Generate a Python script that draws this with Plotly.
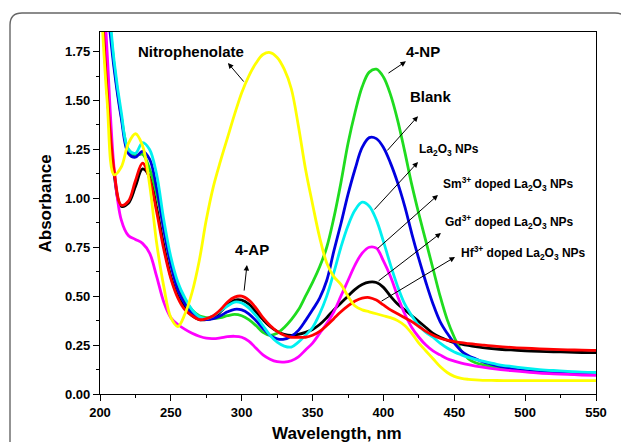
import plotly.graph_objects as go

# ---------------- data ----------------
wavelength = list(range(200, 471, 5)) + list(range(480, 551, 10))

abs_4np = [
    2.40, 2.05, 1.68, 1.42, 1.25, 1.22, 1.225, 1.15, 1.02, 0.85,
    0.67, 0.55, 0.48, 0.43, 0.40, 0.39, 0.385, 0.39, 0.40, 0.407,
    0.40, 0.38, 0.35, 0.315, 0.30, 0.31, 0.34, 0.38, 0.43, 0.50,
    0.57, 0.65, 0.75, 0.90, 1.08, 1.28, 1.44, 1.57, 1.645, 1.66,
    1.62, 1.53, 1.40, 1.24, 1.07, 0.92, 0.78, 0.64, 0.50, 0.38,
    0.29, 0.22, 0.18, 0.16, 0.15,
    0.135, 0.125, 0.118, 0.112, 0.108, 0.105, 0.103, 0.10]

abs_blank = [
    2.40, 2.00, 1.66, 1.41, 1.23, 1.21, 1.24, 1.20, 1.05, 0.84,
    0.66, 0.53, 0.46, 0.41, 0.385, 0.38, 0.385, 0.40, 0.42, 0.433,
    0.43, 0.41, 0.375, 0.335, 0.30, 0.282, 0.28, 0.295, 0.325, 0.375,
    0.43, 0.49, 0.58, 0.73, 0.87, 1.02, 1.15, 1.26, 1.31, 1.305,
    1.26, 1.18, 1.08, 0.96, 0.82, 0.69, 0.57, 0.46, 0.37, 0.31,
    0.26, 0.22, 0.195, 0.18, 0.165,
    0.145, 0.13, 0.12, 0.113, 0.108, 0.104, 0.101, 0.10]

abs_la2o3 = [
    2.50, 2.10, 1.70, 1.44, 1.25, 1.23, 1.285, 1.25, 1.12, 0.89,
    0.70, 0.57, 0.49, 0.43, 0.395, 0.385, 0.40, 0.425, 0.45, 0.47,
    0.465, 0.44, 0.40, 0.35, 0.30, 0.265, 0.245, 0.24, 0.265, 0.30,
    0.34, 0.41, 0.50, 0.62, 0.75, 0.86, 0.94, 0.98, 0.96, 0.89,
    0.78, 0.66, 0.55, 0.46, 0.40, 0.35, 0.315, 0.29, 0.26, 0.235,
    0.215, 0.20, 0.187, 0.177, 0.168,
    0.152, 0.141, 0.132, 0.125, 0.12, 0.116, 0.112, 0.11]

abs_sm = [
    2.40, 1.75, 1.15, 0.89, 0.81, 0.79, 0.77, 0.72, 0.60, 0.47,
    0.39, 0.355, 0.33, 0.31, 0.295, 0.285, 0.283, 0.287, 0.293, 0.295,
    0.29, 0.27, 0.235, 0.20, 0.178, 0.165, 0.163, 0.17, 0.19, 0.225,
    0.26, 0.31, 0.36, 0.42, 0.50, 0.58, 0.66, 0.72, 0.75, 0.745,
    0.68, 0.60, 0.50, 0.41, 0.34, 0.29, 0.25, 0.22, 0.20, 0.18,
    0.168, 0.158, 0.15, 0.143, 0.137,
    0.127, 0.12, 0.113, 0.107, 0.103, 0.10, 0.097, 0.095]

abs_gd = [
    2.20, 1.55, 1.12, 0.96, 0.975, 1.06, 1.15, 1.11, 0.95, 0.76,
    0.60, 0.50, 0.44, 0.40, 0.38, 0.38, 0.39, 0.42, 0.455, 0.48,
    0.48, 0.46, 0.42, 0.38, 0.345, 0.32, 0.305, 0.30, 0.305, 0.315,
    0.33, 0.355, 0.39, 0.43, 0.465, 0.50, 0.535, 0.56, 0.572, 0.57,
    0.545, 0.50, 0.46, 0.43, 0.40, 0.37, 0.34, 0.31, 0.29, 0.275,
    0.263, 0.255, 0.248, 0.242, 0.237,
    0.23, 0.225, 0.221, 0.218, 0.216, 0.214, 0.212, 0.211]

abs_hf = [
    2.20, 1.55, 1.14, 0.965, 0.985, 1.09, 1.18, 1.10, 0.93, 0.74,
    0.59, 0.49, 0.43, 0.40, 0.38, 0.385, 0.40, 0.43, 0.47, 0.495,
    0.50, 0.48, 0.44, 0.39, 0.35, 0.32, 0.30, 0.29, 0.29, 0.29,
    0.30, 0.32, 0.35, 0.385, 0.42, 0.45, 0.475, 0.49, 0.493, 0.48,
    0.455, 0.43, 0.41, 0.39, 0.37, 0.345, 0.32, 0.30, 0.285, 0.275,
    0.268, 0.262, 0.258, 0.254, 0.25,
    0.243, 0.238, 0.234, 0.231, 0.228, 0.226, 0.224, 0.223]

abs_nitrophenolate = [
    2.10, 1.50, 1.12, 1.16, 1.28, 1.33, 1.27, 1.07, 0.77, 0.55,
    0.39, 0.345, 0.41, 0.52, 0.68, 0.89, 1.06, 1.19, 1.31, 1.43,
    1.54, 1.625, 1.69, 1.735, 1.745, 1.72, 1.66, 1.56, 1.37, 1.15,
    0.97, 0.80, 0.67, 0.60, 0.56, 0.50, 0.45, 0.43, 0.42, 0.41,
    0.40, 0.39, 0.375, 0.35, 0.31, 0.26, 0.22, 0.18, 0.14, 0.11,
    0.09, 0.08, 0.075, 0.072, 0.07,
    0.069, 0.068, 0.068, 0.068, 0.068, 0.068, 0.068, 0.068]

series = [
    ("Gd", abs_gd, "#000000"),
    ("4-NP", abs_4np, "#1fdc1f"),
    ("Blank", abs_blank, "#0000e0"),
    ("La2O3", abs_la2o3, "#00f0f0"),
    ("Sm", abs_sm, "#ff00ff"),
    ("Hf", abs_hf, "#ff0000"),
    ("Nitrophenolate", abs_nitrophenolate, "#ffff00"),
]

FONT = "Liberation Sans"

fig = go.Figure()
for name, vals, col in series:
    fig.add_trace(go.Scatter(x=wavelength, y=vals, mode="lines", name=name,
                             line=dict(color=col, width=2.8, shape="spline", smoothing=1.0),
                             showlegend=False, hoverinfo="skip"))

# arrows: (tail_x, tail_y, head_x, head_y)
arrows = [
    (302.3, 1.589, 290.3, 1.691),
    (402.5, 1.635, 415.9, 1.700),
    (401.8, 1.237, 424.4, 1.420),
    (392.6, 0.935, 424.4, 1.185),
    (394.8, 0.736, 438.5, 1.017),
    (395.5, 0.572, 440.6, 0.823),
    (397.6, 0.470, 450.5, 0.700),
    (301.6, 0.521, 303.7, 0.659),
]
annotations = []
for tx, ty, hx, hy in arrows:
    annotations.append(dict(x=hx, y=hy, ax=tx, ay=ty, xref="x", yref="y",
                            axref="x", ayref="y", text="", showarrow=True,
                            arrowhead=2, arrowsize=1.1, arrowwidth=1,
                            arrowcolor="#000000", standoff=0, startstandoff=0))

big_labels = [
    ("Nitrophenolate", 264.2, 1.748),
    ("4-NP", 427.9, 1.748),
    ("Blank", 433.6, 1.518),
    ("4-AP", 307.3, 0.741),
]
for t, x, y in big_labels:
    annotations.append(dict(x=x, y=y, xref="x", yref="y", text=t, showarrow=False,
                            xanchor="center", yanchor="middle",
                            font=dict(family=FONT, size=15, color="#000", weight="bold")))

small_labels = [
    ("La<sub>2</sub>O<sub>3</sub> NPs", 423.7, 1.245),
    ("Sm<sup>3+</sup> doped La<sub>2</sub>O<sub>3</sub> NPs", 440.6, 1.075),
    ("Gd<sup>3+</sup> doped La<sub>2</sub>O<sub>3</sub> NPs", 442.0, 0.881),
    ("Hf<sup>3+</sup> doped La<sub>2</sub>O<sub>3</sub> NPs", 453.3, 0.723),
]
for t, x, y in small_labels:
    annotations.append(dict(x=x, y=y, xref="x", yref="y", text=t, showarrow=False,
                            xanchor="left", yanchor="middle",
                            font=dict(family=FONT, size=12, color="#000", weight="bold")))

# axis titles (paper coords; plot area is 496 x 362 px)
annotations.append(dict(x=(337 - 100) / 496, y=(394 - 433) / 362, xref="paper", yref="paper",
                        text="Wavelength, nm", showarrow=False, xanchor="center", yanchor="middle",
                        font=dict(family=FONT, size=17, color="#000", weight="bold")))
annotations.append(dict(x=(44.5 - 100) / 496, y=(394 - 204) / 362, xref="paper", yref="paper",
                        text="Absorbance", showarrow=False, textangle=-90,
                        xanchor="center", yanchor="middle",
                        font=dict(family=FONT, size=17, color="#000", weight="bold")))

# outer rounded panel border (paper coords)
x0 = (10 - 100) / 496
x1 = (627 - 100) / 496
yt = (394 - 13) / 362
yb = (394 - 480) / 362
rx = 12 / 496
ry = 12 / 362
path = (f"M {x0},{yb} L {x0},{yt - ry} Q {x0},{yt} {x0 + rx},{yt} "
        f"L {x1 - rx},{yt} Q {x1},{yt} {x1},{yt - ry} L {x1},{yb}")

# page body has an 8px margin, so the figure is sized/offset to compensate
fig.update_layout(
    width=621, height=434,
    margin=dict(l=92, r=33, t=24, b=48),
    paper_bgcolor="white", plot_bgcolor="white",
    annotations=annotations,
    shapes=[dict(type="path", path=path, xref="paper", yref="paper",
                 line=dict(color="#666666", width=1.4), layer="below")],
)

fig.update_xaxes(range=[200, 550], dtick=50, tick0=200, showgrid=False, zeroline=False,
                 showline=True, linecolor="#000", linewidth=1.3, mirror=True,
                 ticks="outside", ticklen=6, tickwidth=1.2, tickcolor="#000",
                 minor=dict(ticks="outside", dtick=25, ticklen=3, tickwidth=1.2, tickcolor="#000"),
                 tickfont=dict(family=FONT, size=13, color="#000", weight="bold"))
fig.update_yaxes(range=[0, 1.85], dtick=0.25, tick0=0, tickformat=".2f", showgrid=False,
                 zeroline=False, showline=True, linecolor="#000", linewidth=1.3, mirror=True,
                 ticks="outside", ticklen=6, tickwidth=1.2, tickcolor="#000",
                 minor=dict(ticks="outside", dtick=0.125, ticklen=3, tickwidth=1.2, tickcolor="#000"),
                 tickfont=dict(family=FONT, size=13, color="#000", weight="bold"))

fig.write_html("out.html")
